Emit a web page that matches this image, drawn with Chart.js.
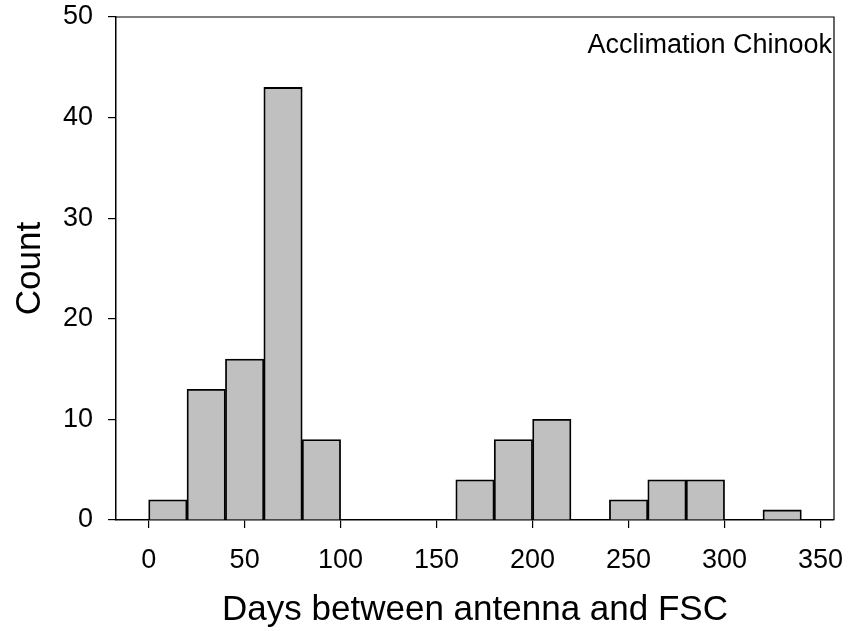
<!DOCTYPE html>
<html lang="en">
<head>
    <meta charset="UTF-8">
    <title>Acclimation Chinook - Days between antenna and FSC</title>
    <script src="https://cdn.jsdelivr.net/npm/chart.js@4"></script>
    <style>
        body {
            margin: 0;
            background: #fff;
        }
        .chart-box {
            width: 848px;
            height: 631px;
        }
    </style>
</head>
<body>
    <div class="chart-box">
        <canvas id="histChart"></canvas>
    </div>

    <script>
        // Histogram bins (days), 20-day wide, and counts
        const binStarts = [0, 20, 40, 60, 80, 160, 180, 200, 240, 260, 280, 320];
        const counts = [2, 13, 16, 43, 8, 4, 8, 10, 2, 4, 4, 1];
        const binWidth = 20;
        const xTicks = [0, 50, 100, 150, 200, 250, 300, 350];
        const yTicks = [0, 10, 20, 30, 40, 50];
        const panelLabel = 'Acclimation Chinook';

        const points = binStarts.map((s, i) => ({ x: s + binWidth / 2, y: counts[i] }));

        const FONT = "'Liberation Sans', Arial, sans-serif";

        // top and right frame lines + panel label
        const framePlugin = {
            id: 'frame',
            afterDraw(chart) {
                const { ctx, chartArea: a } = chart;
                ctx.save();
                ctx.strokeStyle = '#000';
                ctx.lineWidth = 1.2;
                ctx.beginPath();
                ctx.moveTo(a.left, a.top);
                ctx.lineTo(a.right, a.top);
                ctx.lineTo(a.right, a.bottom);
                ctx.stroke();
                ctx.fillStyle = '#000';
                ctx.font = '27px ' + FONT;
                ctx.textAlign = 'right';
                ctx.textBaseline = 'alphabetic';
                ctx.fillText(panelLabel, a.right - 2, a.top + 36);
                ctx.restore();
            }
        };

        new Chart(document.getElementById('histChart'), {
            type: 'bar',
            data: {
                datasets: [{
                    data: points,
                    backgroundColor: '#c0c0c0',
                    borderColor: '#000',
                    borderWidth: 1.8,
                    barPercentage: 1,
                    categoryPercentage: 1
                }]
            },
            options: {
                responsive: true,
                maintainAspectRatio: false,
                animation: false,
                devicePixelRatio: 1,
                layout: { padding: { top: 17, right: 14, left: 0, bottom: 0 } },
                plugins: {
                    legend: { display: false },
                    tooltip: { enabled: false }
                },
                scales: {
                    x: {
                        type: 'linear',
                        offset: false,
                        min: -17,
                        max: 357,
                        afterBuildTicks: s => { s.ticks = xTicks.map(v => ({ value: v })); },
                        afterFit: s => { s.height = 111; s.paddingLeft = 0; s.paddingRight = 0; },
                        grid: { offset: false, drawOnChartArea: false, drawTicks: true, tickLength: 8, color: '#000', lineWidth: 1.2 },
                        border: { display: true, color: '#000', width: 1.5 },
                        ticks: { color: '#000', padding: 16, font: { family: FONT, size: 27 } },
                        title: {
                            display: true,
                            text: 'Days between antenna and FSC',
                            color: '#000',
                            font: { family: FONT, size: 35, lineHeight: 1.1 },
                            padding: { top: 0, bottom: 1 }
                        }
                    },
                    y: {
                        min: 0,
                        max: 50,
                        afterBuildTicks: s => { s.ticks = yTicks.map(v => ({ value: v })); },
                        afterFit: s => { s.width = 116; s.paddingTop = 0; s.paddingBottom = 0; },
                        grid: { offset: false, drawOnChartArea: false, drawTicks: true, tickLength: 8, color: '#000', lineWidth: 1.2 },
                        border: { display: true, color: '#000', width: 1.5 },
                        ticks: { color: '#000', padding: 15, font: { family: FONT, size: 27 } },
                        title: {
                            display: true,
                            text: 'Count',
                            color: '#000',
                            font: { family: FONT, size: 35, lineHeight: 1.2 },
                            padding: { top: 9, bottom: 0 }
                        }
                    }
                }
            },
            plugins: [framePlugin]
        });
    </script>
</body>
</html>
